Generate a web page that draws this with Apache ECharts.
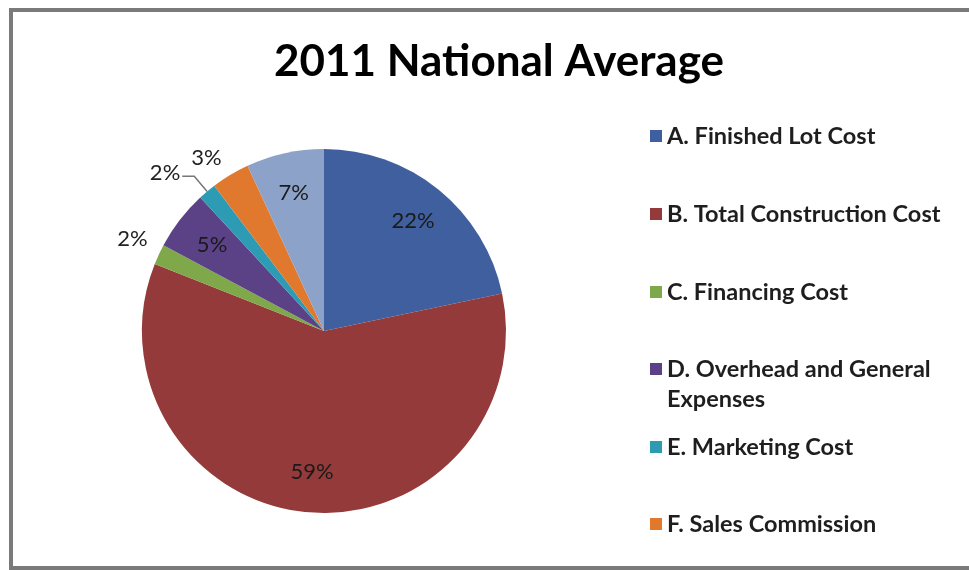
<!DOCTYPE html>
<html>
<head>
<meta charset="utf-8">
<script src="https://cdn.jsdelivr.net/npm/echarts@6/dist/echarts.min.js"></script>
<style>html,body{margin:0;padding:0;background:#fff;overflow:hidden}#c{width:969px;height:570px}</style>
</head>
<body>
<div id="c"></div>
<script>
const titleText = '2011 National Average';
const categories = ['A. Finished Lot Cost', 'B. Total Construction Cost', 'C. Financing Cost', 'D. Overhead and General Expenses', 'E. Marketing Cost', 'F. Sales Commission', 'G. Net Profit'];
const legendLabels = ['A. Finished Lot Cost', 'B. Total Construction Cost', 'C. Financing Cost', '\nD. Overhead and General\nExpenses', 'E. Marketing Cost', 'F. Sales Commission'];
const values = [21.7, 59.3, 1.8, 5.3, 1.6, 3.4, 6.9];
const colors = ['#3F5F9E', '#943A3A', '#7FA84A', '#5B4287', '#2E9BB5', '#E0792E', '#8DA2C9'];
const outsideLabels = [false, false, true, false, true, true, false];

const FONT = 'Lato, "Open Sans", sans-serif';
const chart = echarts.init(document.getElementById('c'));
const center = [324, 331];
const R = 182;
const pct = p => Math.round(p.percent) + '%';

const legendTops = [119, 197, 275, 319, 430, 507];
const legends = legendLabels.map((lab, i) => ({
  data: [{ name: categories[i], itemStyle: { color: colors[i] } }],
  left: 645, top: legendTops[i],
  orient: 'vertical',
  itemWidth: 12, itemHeight: 12, itemGap: 0,
  icon: 'rect',
  selectedMode: false,
  formatter: () => lab,
  textStyle: i === 3
    ? { fontFamily: FONT, fontSize: 23.5, fontWeight: 'bold', color: '#1e1e1e', lineHeight: 30 }
    : { fontFamily: FONT, fontSize: 23.5, fontWeight: 'bold', color: '#1e1e1e', lineHeight: 24 }
}));

const outsideLine = [null, null, { show: false, length: 8, length2: 2 }, null,
  { show: true, length: 20, length2: 12, lineStyle: { color: '#777', width: 1.5 } },
  { show: false, length: 13, length2: 0 }, null];
const outsideLift = [0, 0, 24, 0, 6, 12, 0];

chart.setOption({
  animation: false,
  backgroundColor: '#fff',
  title: { text: titleText, left: 494, top: 35, textAlign: 'center',
    textStyle: { fontFamily: FONT, fontSize: 44, fontWeight: 'bold', color: '#000' } },
  legend: legends,
  graphic: [{ type: 'polyline', shape: { points: [[1200, 10], [11, 10], [11, 568], [1200, 568]] },
    style: { fill: null, stroke: '#7a7a7a', lineWidth: 4 }, silent: true }],
  series: [
    {
      type: 'pie', center: center, radius: [0, R], startAngle: 90, clockwise: true,
      avoidLabelOverlap: false,
      itemStyle: { borderWidth: 0 },
      data: categories.map((n, i) => ({
        name: n, value: values[i], itemStyle: { color: colors[i] },
        label: outsideLabels[i]
          ? { show: true, position: 'outside', distanceToLabelLine: 2,
              formatter: p => '{t|' + pct(p) + '}\n{s| }',
              rich: { t: { fontFamily: FONT, fontSize: 22, color: '#222', lineHeight: 22 },
                      s: { fontSize: 1, lineHeight: outsideLift[i] } } }
          : { show: false },
        labelLine: outsideLine[i] || { show: false }
      }))
    },
    {
      type: 'pie', center: center, radius: [R * 0.52, R], startAngle: 90, clockwise: true,
      silent: true, legendHoverLink: false,
      itemStyle: { color: 'rgba(0,0,0,0)' },
      data: categories.map((n, i) => ({
        name: n, value: values[i],
        label: outsideLabels[i] ? { show: false } : { show: true, position: 'inside', formatter: pct, fontFamily: FONT, fontSize: 22, color: '#1a1a1a' },
        labelLine: { show: false }
      }))
    }
  ]
});
</script>
</body>
</html>
